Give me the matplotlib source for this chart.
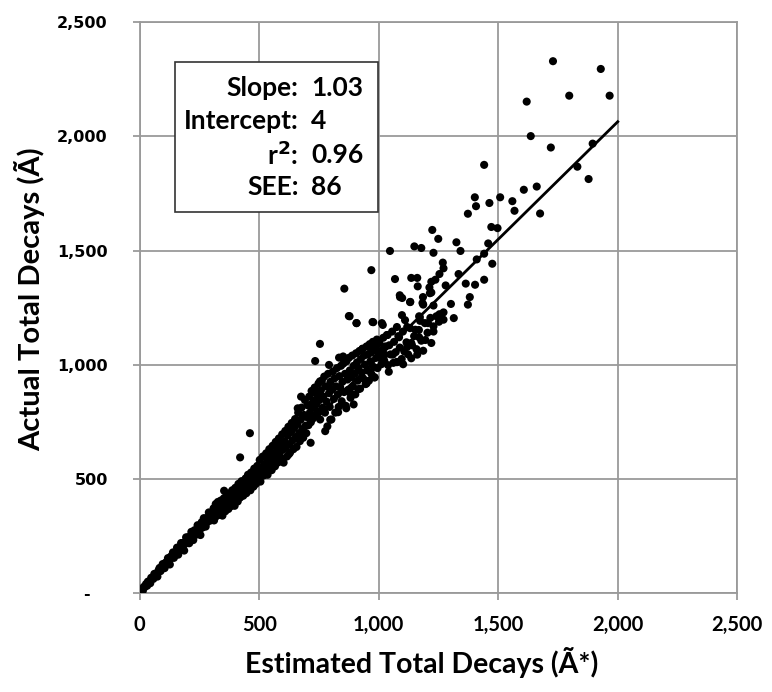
import matplotlib
matplotlib.use("Agg")
import matplotlib.pyplot as plt
from matplotlib.ticker import FixedLocator

# ---- data ----
seg_a_x = [4, 9, 13, 17, 21, 26, 31, 34, 39, 44, 48, 53, 57, 61, 66, 70, 74, 79, 83, 87, 91, 96, 101, 104, 109,
           113, 118, 121, 126, 131, 134, 139, 143, 148, 152, 156, 161, 164, 169, 173, 177, 182, 186, 191, 194,
           199, 203, 207, 212, 216, 221, 224, 229, 233, 238, 242, 246, 251, 254, 259, 263, 268, 272, 276, 281,
           285, 289, 294, 297]
seg_a_y = [6, 15, 10, 27, 26, 39, 32, 50, 47, 43, 67, 65, 62, 84, 76, 86, 72, 100, 110, 96, 105, 127, 120, 109,
           134, 125, 153, 138, 125, 161, 156, 178, 154, 175, 169, 199, 168, 198, 191, 219, 191, 220, 186, 221, 244,
           220, 245, 218, 245, 268, 247, 232, 275, 270, 256, 297, 275, 293, 254, 310, 287, 328, 308, 291, 329,
           314, 353, 336, 318]

seg_b_x = [302, 305, 309, 311, 314, 318, 320, 323, 327, 329, 333, 336, 339, 342, 346, 349, 352, 355, 358, 361,
           365, 368, 371, 374, 377, 381, 384, 387, 390, 394, 397, 400, 404, 407, 410, 413, 417, 420, 423, 426,
           430, 433, 436, 440, 443, 446, 449, 453, 456, 459, 463, 466, 469, 472, 476, 479, 482, 486, 489, 492,
           495, 499, 502, 505, 509, 512, 515, 519, 522, 525, 529, 532, 535, 539, 542, 545, 549, 552, 556, 559,
           562, 566, 569, 572, 575, 579, 582, 586, 589, 592, 596, 599, 602, 606, 609, 612, 616, 619, 622, 626,
           629, 633, 636, 639, 643, 646, 650, 653, 656, 660, 663, 667, 670, 674, 677, 680, 684, 687, 691, 694,
           697]
seg_b_y = [352, 330, 371, 318, 345, 390, 336, 362, 399, 342, 375, 350, 405, 368, 339, 392, 415, 376, 358, 421,
           389, 405, 368, 436, 398, 380, 427, 450, 399, 418, 382, 461, 425, 444, 401, 478, 437, 418, 465, 490,
           441, 426, 481, 455, 502, 437, 470, 518, 459, 488, 450, 528, 485, 500, 466, 545, 508, 478, 530, 557,
           497, 521, 583, 488, 546, 528, 598, 515, 565, 540, 612, 552, 518, 585, 630, 561, 600, 538, 645, 580,
           612, 555, 662, 598, 630, 572, 677, 615, 648, 590, 695, 628, 571, 664, 710, 640, 598, 690, 728, 652,
           615, 705, 745, 668, 630, 722, 762, 684, 640, 740, 790, 700, 665, 760, 812, 718, 680, 780, 845, 733,
           700]

seg_c_x = [700, 703, 706, 709, 712, 716, 719, 722, 725, 729, 732, 735, 738, 742, 745, 748, 752, 755, 758, 762,
           765, 768, 772, 775, 778, 782, 785, 788, 792, 795, 798, 802, 805, 808, 812, 815, 818, 822, 825, 829,
           832, 835, 839, 842, 845, 848, 852, 855, 859, 862, 865, 869, 872, 875, 879, 882, 885, 889, 892, 895,
           899, 902, 905, 909, 912, 915, 919, 922, 925, 929, 932, 935, 939, 942, 945, 949, 952, 955, 959, 962,
           965, 969, 972, 975, 979, 982, 985, 989, 992, 995, 999]
seg_c_y = [770, 822, 735, 860, 790, 748, 885, 810, 765, 842, 900, 778, 826, 870, 795, 918, 845, 760, 888, 930,
           812, 860, 948, 790, 905, 838, 730, 960, 875, 815, 925, 760, 890, 970, 850, 940, 790, 905, 985, 870,
           815, 950, 900, 995, 840, 925, 1005, 880, 960, 820, 1015, 935, 890, 1030, 975, 855, 945, 1040, 905, 995,
           960, 870, 1050, 1010, 930, 985, 1060, 895, 1025, 965, 1070, 940, 1040, 1000, 915, 1080, 975, 1045, 930,
           1090, 1015, 960, 1060, 1100, 990, 945, 1075, 1030, 1110, 985, 1055]

seg_d_x = [1003, 1006, 1011, 1014, 1019, 1023, 1028, 1034, 1039, 1044, 1049, 1056, 1061, 1064, 1071, 1076, 1082,
           1088, 1096, 1101, 1107, 1116, 1123, 1131, 1139, 1148, 1158, 1168, 1178, 1193, 1204, 1216, 1229, 1241,
           1252]
seg_d_y = [1095, 1030, 1002, 1065, 1118, 1018, 1080, 1130, 998, 1085, 1045, 1145, 1008, 1100, 1055, 1012, 1125,
           1075, 1025, 1145, 1058, 1098, 1045, 1160, 1085, 1125, 1068, 1152, 1105, 1182, 1140, 1205, 1168, 1212,
           1188]

upper_x = [1729, 1929, 1619, 1797, 1966, 1636, 1720, 1895, 1831, 1878, 1441, 1607, 1661, 1675, 1402, 1407, 1463,
           1508, 1559, 1568, 1373, 1471, 1497, 1458, 1441, 1475, 1410, 1441, 1364, 1403, 1381, 1373, 1224, 1249,
           1325, 1342, 1229, 1149, 1178, 1047, 969, 1068, 1136, 1161, 1268, 1271, 1254, 1237, 1334, 1220, 1280,
           1163, 1212, 1220, 1088, 1098, 1132, 1183, 1186, 1229, 1302, 856, 878, 907, 974, 1017, 1169, 1173, 1254,
           1271, 1314, 1271, 1076, 1119, 1153, 1229, 1037, 1085, 1169, 1195, 1220, 1136, 1119, 754, 734, 792, 834,
           851, 932, 966, 991, 1025, 1059, 1076, 1102, 1136, 1161, 1186, 1042, 983, 949, 915, 881, 895, 864, 830,
           797, 754, 793, 734, 675, 661, 717, 776, 715, 624, 461, 420, 353,
           1089, 1131, 1185, 1214, 1097, 1110, 875, 907, 977, 1013, 1172, 1206]
upper_y = [2329, 2295, 2152, 2178, 2178, 2001, 1951, 1968, 1867, 1813, 1875, 1766, 1780, 1662, 1733, 1694, 1708,
           1733, 1716, 1674, 1661, 1603, 1598, 1531, 1486, 1442, 1461, 1372, 1355, 1350, 1296, 1263, 1590, 1551,
           1536, 1498, 1490, 1518, 1511, 1498, 1414, 1375, 1380, 1380, 1447, 1422, 1397, 1372, 1397, 1363, 1347,
           1343, 1338, 1316, 1304, 1292, 1275, 1270, 1263, 1259, 1266, 1333, 1212, 1182, 1187, 1174, 1212, 1192, 1221,
           1229, 1204, 1197, 1165, 1165, 1153, 1145, 1130, 1120, 1120, 1108, 1095, 1095, 1078, 1091, 1016, 999, 1031,
           1036, 1069, 1053, 1061, 1044, 1044, 1011, 1002, 1028, 1044, 1061, 969, 944, 918, 893, 876, 826, 809, 792,
           759, 927, 902, 876, 860, 809, 826, 709, 658, 608, 700, 594, 448,
           1296, 1274, 1296, 1313, 1217, 1195, 1213, 1182, 1186, 1182, 1208, 1182]

slope = 1.03
intercept = 4
r2 = 0.96
see = 86
fit_range = [0, 2000]

x_ticks = [0, 500, 1000, 1500, 2000, 2500]
x_ticklabels = ["0", "500", "1,000", "1,500", "2,000", "2,500"]
y_ticks = [0, 500, 1000, 1500, 2000, 2500]
y_ticklabels = ["-   ", "500", "1,000", "1,500", "2,000", "2,500"]

x_title = "Estimated Total Decays (Ã*)"
y_title = "Actual Total Decays (Ã)"

# ---- figure ----
fig = plt.figure(figsize=(7.72, 6.92), dpi=100)
ax = fig.add_axes([0.181, 0.143, 0.774, 0.825])

xs = seg_a_x + seg_b_x + seg_c_x + seg_d_x + upper_x
ys = seg_a_y + seg_b_y + seg_c_y + seg_d_y + upper_y
ax.scatter(xs, ys, s=34, color="black", edgecolors="none", zorder=3)

fx = fit_range
fy = [slope * v + intercept for v in fx]
ax.plot(fx, fy, color="black", lw=2.0, zorder=4)

ax.set_xlim(0, 2500)
ax.set_ylim(0, 2500)
ax.xaxis.set_major_locator(FixedLocator(x_ticks))
ax.yaxis.set_major_locator(FixedLocator(y_ticks))
ax.set_xticklabels(x_ticklabels, family="Lato", fontweight="bold", fontsize=14.5)
ax.set_yticklabels(y_ticklabels, family="DejaVu Sans", fontweight="bold", fontsize=11.5)
ax.grid(True, color="#9a9a9a", lw=1.3, zorder=0)
for sp in ax.spines.values():
    sp.set_color("#9a9a9a")
    sp.set_linewidth(1.3)
ax.tick_params(axis="both", colors="#9a9a9a", length=5, width=1.3, labelcolor="black")
ax.tick_params(axis="x", pad=11)
ax.tick_params(axis="y", pad=18)

ax.set_xlabel(x_title, family="Lato", fontweight="bold", fontsize=20.5, va="center")
ax.set_ylabel(y_title, family="Lato", fontweight="bold", fontsize=21, va="center")
ax.xaxis.set_label_coords(0.472, -0.121)
ax.yaxis.set_label_coords(-0.184, 0.515)

# stats box
bx0, by0, bw, bh = 147, 1668, 850, 657
ax.add_patch(plt.Rectangle((bx0, by0), bw, bh, facecolor="white", edgecolor="#333333", lw=1.2, zorder=5))
labels = ["Slope:", "Intercept:", "r$^{\\mathbf{2}}$:", "SEE:"]
values = [f"{slope:.2f}", f"{intercept}", f"{r2:.2f}", f"{see}"]
ly = [2210, 2065, 1920, 1780]
for lab, val, yy in zip(labels, values, ly):
    ax.text(664, yy, lab, ha="right", va="center", family="Lato", fontweight="bold", fontsize=19, zorder=6)
    ax.text(718, yy, val, ha="left", va="center", family="Lato", fontweight="bold", fontsize=19, zorder=6)

fig.savefig("out.png", dpi=100)
